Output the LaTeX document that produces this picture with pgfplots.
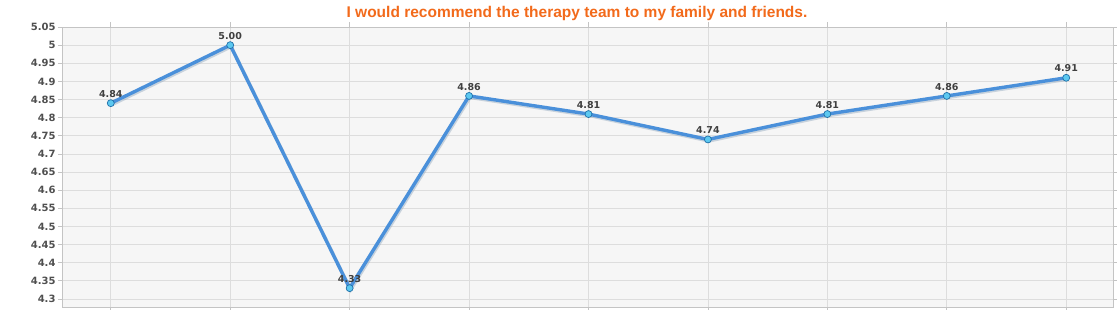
\documentclass[border=0pt]{standalone}
\usepackage{pgfplots}
\pgfplotsset{compat=1.18}
\usepackage{fontspec}
\setmainfont{DejaVu Sans}
\newfontfamily\titlefont{Liberation Sans}
\definecolor{plotbg}{HTML}{F6F6F6}
\definecolor{gridc}{HTML}{DDDDDD}
\definecolor{framec}{HTML}{C4C4C4}
\definecolor{tickc}{HTML}{4F4F4F}
\definecolor{valc}{HTML}{3F3F3F}
\definecolor{linec}{HTML}{4A90DA}
\definecolor{shadowc}{HTML}{9AAFC4}
\definecolor{markfill}{HTML}{5CC8F0}
\definecolor{markdraw}{HTML}{1F6FA8}
\definecolor{titlec}{HTML}{F26A1B}

\begin{document}
\begin{tikzpicture}[x=1pt,y=1pt]
\useasboundingbox (-63,-2) rectangle (1054,307);
\begin{axis}[
  at={(0,0)}, anchor=south west,
  scale only axis, width=1051pt, height=280pt,
  xmin=-0.4, xmax=8.4, ymin=4.278, ymax=5.05,
  xtick={0,...,8}, xticklabels={},
  ytick={4.3,4.35,4.4,4.45,4.5,4.55,4.6,4.65,4.7,4.75,4.8,4.85,4.9,4.95,5,5.05},
  yticklabels={4.3,4.35,4.4,4.45,4.5,4.55,4.6,4.65,4.7,4.75,4.8,4.85,4.9,4.95,5,5.05},
  axis background/.style={fill=plotbg},
  grid=major, major grid style={gridc, line width=0.8pt},
  axis line style={framec, line width=1pt},
  tick style={framec, line width=0.8pt},
  tick align=outside, major tick length=5pt,
  yticklabel style={font=\fontsize{10}{11}\selectfont\bfseries, text=tickc, xshift=1pt},
  /pgf/number format/assume math mode=true,
  clip=false,
]
% soft shadow under the line
\addplot[shadowc, opacity=0.5, line width=3.4pt, xshift=1pt, yshift=-1.5pt, forget plot]
  coordinates {(0,4.84) (1,5.00) (2,4.33) (3,4.86) (4,4.81) (5,4.74) (6,4.81) (7,4.86) (8,4.91)};
\addplot[linec, line width=3.4pt, mark=*, mark size=3.5pt,
  mark options={fill=markfill, draw=markdraw, line width=0.7pt},
  point meta=y,
  nodes near coords={\pgfmathprintnumber[fixed,fixed zerofill,precision=2,assume math mode=true]{\pgfplotspointmeta}},
  every node near coord/.append style={font=\fontsize{9.5}{10}\selectfont\bfseries, text=valc, anchor=south, yshift=2pt}]
  coordinates {(0,4.84) (1,5.00) (2,4.33) (3,4.86) (4,4.81) (5,4.74) (6,4.81) (7,4.86) (8,4.91)};
\end{axis}
\node[font=\titlefont\bfseries\fontsize{15.5}{17}\selectfont, text=titlec] at (514,294) {I would recommend the therapy team to my family and friends.};
\end{tikzpicture}
\end{document}
